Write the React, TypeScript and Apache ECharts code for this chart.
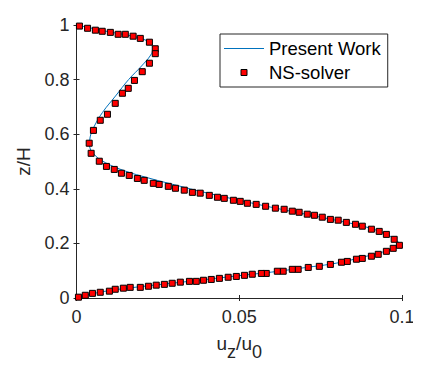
import React, { useEffect, useRef } from "react";
import * as echarts from "echarts";

// Present Work (solid line): u_z/u_0 and z/H
const presentU = [0, 0.004, 0.010, 0.016, 0.020, 0.0225, 0.0235, 0.0228, 0.020, 0.016, 0.012, 0.008, 0.0055, 0.0042, 0.0040, 0.0055, 0.009, 0.015, 0.022, 0.030, 0.040, 0.050, 0.060, 0.070, 0.080, 0.088, 0.094, 0.0975, 0.0990, 0.0975, 0.094, 0.088, 0.080, 0.070, 0.060, 0.050, 0.040, 0.030, 0.020, 0.010, 0.004, 0];
const presentZ = [1.0, 0.99, 0.975, 0.962, 0.950, 0.935, 0.915, 0.89, 0.85, 0.80, 0.74, 0.68, 0.63, 0.59, 0.56, 0.525, 0.495, 0.465, 0.44, 0.415, 0.385, 0.358, 0.332, 0.308, 0.284, 0.263, 0.240, 0.218, 0.200, 0.185, 0.168, 0.150, 0.128, 0.111, 0.095, 0.082, 0.068, 0.055, 0.042, 0.027, 0.013, 0];

// NS-solver (markers)
const nsU = [0.0009, 0.0034, 0.0058, 0.0079, 0.0104, 0.0128, 0.0150, 0.0174, 0.0196, 0.0224, 0.0242, 0.0242, 0.0224, 0.0202, 0.0178, 0.0159, 0.0141, 0.0119, 0.0095, 0.0073, 0.0052, 0.0039, 0.0045, 0.0070, 0.0092, 0.0116, 0.0138, 0.0162, 0.0187, 0.0208, 0.0236, 0.0254, 0.0282, 0.0304, 0.0331, 0.0356, 0.0380, 0.0408, 0.0433, 0.0454, 0.0482, 0.0503, 0.0525, 0.0552, 0.0581, 0.0611, 0.0638, 0.0663, 0.0684, 0.0709, 0.0731, 0.0755, 0.0780, 0.0804, 0.0829, 0.0857, 0.0878, 0.0906, 0.0930, 0.0952, 0.0976, 0.0992, 0.0973, 0.0952, 0.0927, 0.0906, 0.0878, 0.0860, 0.0832, 0.0814, 0.0780, 0.0746, 0.0712, 0.0681, 0.0663, 0.0635, 0.0617, 0.0583, 0.0568, 0.0540, 0.0516, 0.0491, 0.0466, 0.0439, 0.0414, 0.0390, 0.0368, 0.0347, 0.0319, 0.0294, 0.0270, 0.0245, 0.0221, 0.0196, 0.0165, 0.0144, 0.0119, 0.0101, 0.0073, 0.0049, 0.0027, 0.0006];
const nsZ = [0.996, 0.988, 0.981, 0.977, 0.973, 0.966, 0.966, 0.959, 0.951, 0.937, 0.913, 0.895, 0.860, 0.829, 0.797, 0.768, 0.750, 0.713, 0.673, 0.651, 0.614, 0.567, 0.530, 0.501, 0.482, 0.471, 0.457, 0.449, 0.438, 0.431, 0.420, 0.416, 0.409, 0.402, 0.395, 0.387, 0.384, 0.376, 0.369, 0.365, 0.358, 0.354, 0.347, 0.343, 0.336, 0.329, 0.325, 0.318, 0.314, 0.307, 0.303, 0.296, 0.288, 0.285, 0.277, 0.270, 0.263, 0.252, 0.244, 0.233, 0.215, 0.193, 0.182, 0.171, 0.160, 0.153, 0.145, 0.142, 0.134, 0.131, 0.123, 0.116, 0.112, 0.105, 0.105, 0.098, 0.098, 0.090, 0.090, 0.087, 0.083, 0.079, 0.076, 0.072, 0.068, 0.065, 0.061, 0.061, 0.058, 0.054, 0.050, 0.047, 0.043, 0.039, 0.039, 0.036, 0.032, 0.025, 0.021, 0.017, 0.010, 0.003];

const seriesNames = ["Present Work", "NS-solver"];

const FONT = "'Liberation Sans', Arial, sans-serif";
const AX = "#262626";
const LEGEND_TEXT = {
  fontSize: 18.5,
  lineHeight: 19,
  color: "#000000",
  fontFamily: FONT,
};

export default function App() {
  const ref = useRef<HTMLDivElement>(null);
  useEffect(() => {
    if (!ref.current) return;
    const chart = echarts.init(ref.current, undefined, { renderer: "svg" });
    const lineData = presentU.map((u, i) => [u, presentZ[i]]);
    const dotData = nsU.map((u, i) => [u, nsZ[i]]);
    const baseAxis = {
      axisLine: { show: true, lineStyle: { color: AX, width: 1 } },
      axisTick: { show: true, inside: true, length: 3, lineStyle: { color: AX } },
      splitLine: { show: false },
    };
    chart.setOption({
      animation: false,
      backgroundColor: "#ffffff",
      textStyle: { fontFamily: FONT },
      grid: { left: 76.5, top: 25, right: 19, bottom: 70 },
      legend: {
        orient: "vertical",
        left: 220,
        top: 34,
        padding: [5, 7, 5, 4],
        itemGap: 5,
        itemWidth: 40,
        itemHeight: 6,
        itemTextGap: 2,
        borderColor: "#262626",
        borderWidth: 1,
        backgroundColor: "#ffffff",
        textStyle: LEGEND_TEXT,
        data: [
          {
            name: seriesNames[0],
            icon: "path://M0,0 L40,0 L40,1 L0,1 Z",
            itemStyle: { color: "#0072BD", borderWidth: 0 },
          },
          {
            name: seriesNames[1],
            icon: "path://M0,0 L10,0 L10,10 L0,10 Z",
            itemStyle: { color: "#ff0000", borderColor: "#000", borderWidth: 1 },
          },
        ],
      },
      xAxis: [
        {
          ...baseAxis,
          type: "value",
          position: "bottom",
          min: 0,
          max: 0.1,
          interval: 0.05,
          axisLabel: { fontSize: 18, color: AX, margin: 10, fontFamily: FONT },
          name: "{m|u}{s|z}{m|/u}{s|0}",
          nameLocation: "middle",
          nameGap: 36,
          nameTextStyle: {
            color: AX,
            fontSize: 19,
            rich: {
              m: { fontSize: 19, lineHeight: 19, verticalAlign: "top", color: AX, fontFamily: FONT },
              s: { fontSize: 18, lineHeight: 27, verticalAlign: "bottom", color: AX, fontFamily: FONT },
            },
          },
        },
        {
          ...baseAxis,
          type: "value",
          position: "top",
          min: 0,
          max: 0.1,
          interval: 0.05,
          axisLabel: { show: false },
        },
      ],
      yAxis: [
        {
          ...baseAxis,
          type: "value",
          position: "left",
          min: 0,
          max: 1,
          interval: 0.2,
          axisLabel: { fontSize: 18, color: AX, margin: 7, fontFamily: FONT },
          name: "z/H",
          nameLocation: "middle",
          nameGap: 44,
          nameTextStyle: { fontSize: 19, color: AX, fontFamily: FONT },
        },
        {
          ...baseAxis,
          type: "value",
          position: "right",
          min: 0,
          max: 1,
          interval: 0.2,
          axisLabel: { show: false },
        },
      ],
      series: [
        {
          name: seriesNames[0],
          type: "line",
          data: lineData,
          smooth: 0.4,
          symbol: "none",
          showSymbol: false,
          lineStyle: { color: "#0072BD", width: 1 },
          itemStyle: { color: "#0072BD" },
          z: 2,
        },
        {
          name: seriesNames[1],
          type: "scatter",
          data: dotData,
          symbol: "rect",
          symbolSize: 6,
          itemStyle: { color: "#ff0000", borderColor: "#000", borderWidth: 1, opacity: 1 },
          z: 3,
        },
      ],
    });
    return () => chart.dispose();
  }, []);
  return <div ref={ref} style={{ width: 421, height: 368, margin: -8 }} />;
}
